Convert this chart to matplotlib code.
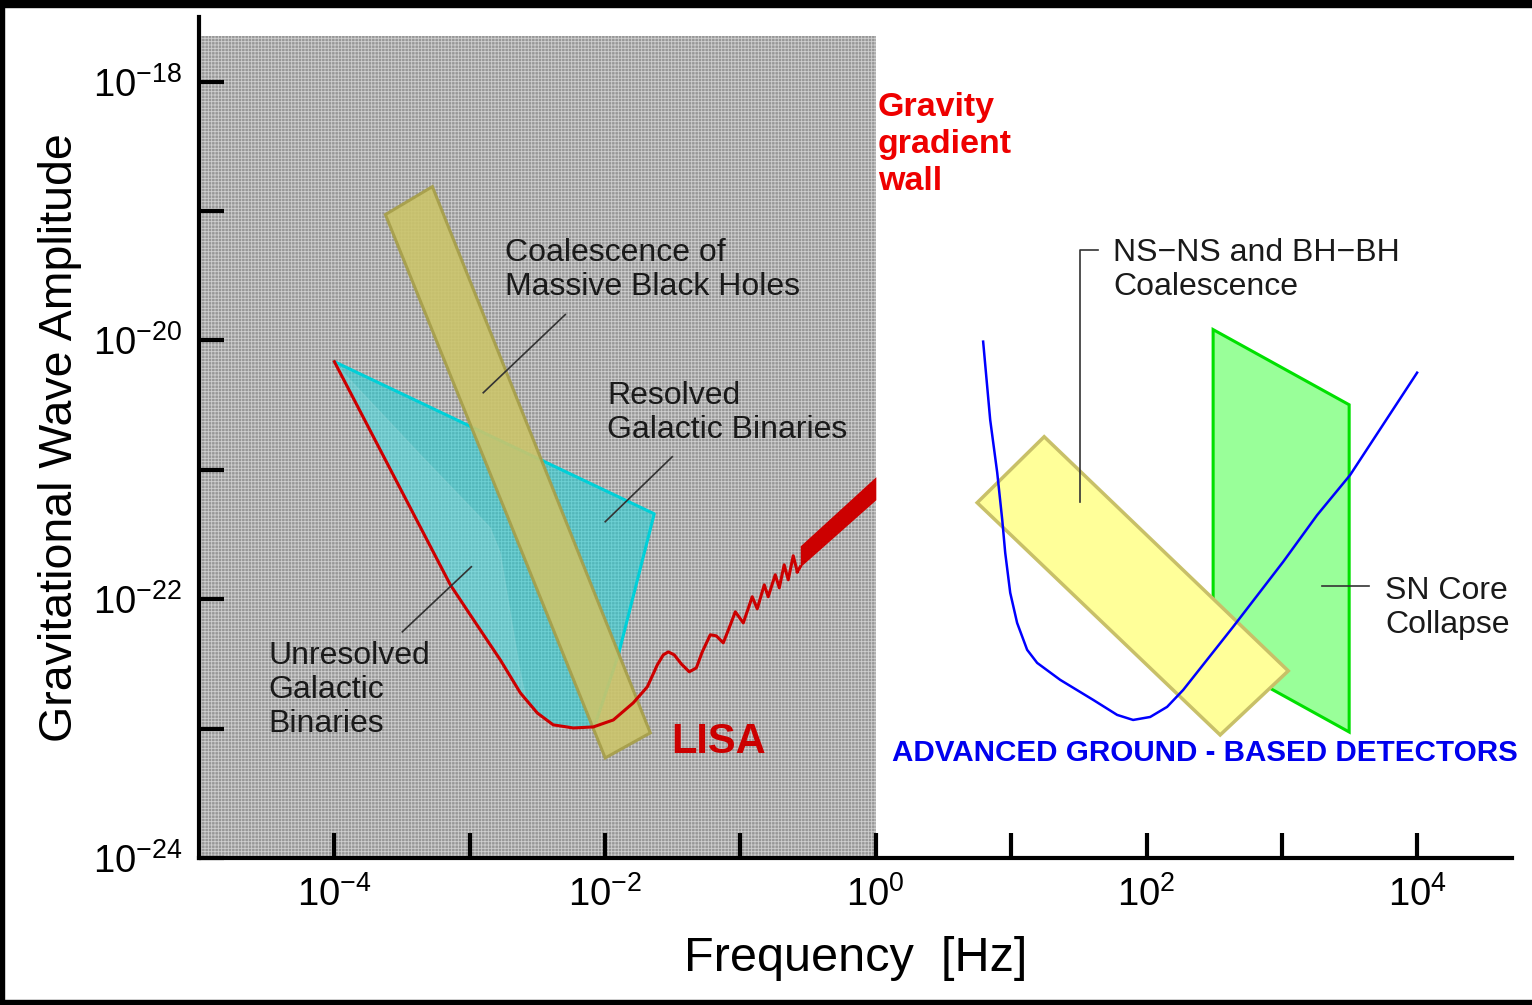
import numpy as np
import matplotlib
matplotlib.use('Agg')
import matplotlib.pyplot as plt
from matplotlib.patches import Polygon, Rectangle

plt.rcParams['font.family'] = ['Liberation Sans', 'DejaVu Sans']
plt.rcParams['mathtext.fontset'] = 'custom'
plt.rcParams['mathtext.rm'] = 'Liberation Sans'
plt.rcParams['mathtext.default'] = 'regular'
plt.rcParams['hatch.linewidth'] = 0.6
plt.rcParams['hatch.color'] = '#d2d2d2'

# --- data (log10 frequency [Hz], log10 amplitude) ---
# LISA sensitivity curve
lisa_logf = [-4.0, -3.143, -2.996, -2.774, -2.626, -2.501, -2.383, -2.235, -2.087,
             -1.939, -1.792, -1.688, -1.614, -1.570, -1.533, -1.489, -1.437, -1.378,
             -1.326, -1.282, -1.223, -1.179, -1.127, -1.083, -1.038,
             -0.979, -0.913, -0.876, -0.824, -0.795, -0.743, -0.713, -0.677, -0.647,
             -0.610, -0.580]
lisa_logh = [-20.164, -21.889, -22.121, -22.469, -22.724, -22.879, -22.971, -22.995, -22.987,
             -22.933, -22.801, -22.677, -22.507, -22.430, -22.407, -22.430, -22.500, -22.561,
             -22.531, -22.407, -22.275, -22.283, -22.337, -22.221, -22.097,
             -22.183, -21.981, -22.074, -21.889, -21.981, -21.811, -21.912, -21.734, -21.850,
             -21.664, -21.788]
# dense oscillating tail of the LISA curve (upper / lower envelope)
lisa_band_logf = [-0.558, 0.0]
lisa_band_top = [-21.587, -21.053]
lisa_band_bot = [-21.749, -21.231]

# Resolved galactic binaries
res_logf = [-4.0, -1.637, -1.902, -2.08, -2.235, -2.383, -2.501, -2.626, -2.774, -2.996, -3.143]
res_logh = [-20.164, -21.340, -22.430, -22.99, -22.995, -22.971, -22.879, -22.724, -22.469, -22.121, -21.889]

# Unresolved galactic binaries
unres_logf = [-4.0, -3.143, -2.996, -2.774, -2.626, -2.575, -2.626, -2.774, -2.848, -3.365, -3.919]
unres_logh = [-20.164, -21.889, -22.121, -22.469, -22.724, -22.801, -22.569, -21.641, -21.448, -20.883, -20.265]

# Coalescence of massive black holes
mbh_logf = [-3.623, -3.276, -1.666, -1.999]
mbh_logh = [-19.027, -18.811, -23.033, -23.227]

# Advanced ground-based detector curve
ground_logf = [0.793, 0.845, 0.897, 0.934, 0.956, 0.993, 1.044, 1.118, 1.192, 1.362, 1.606,
               1.783, 1.901, 2.027, 2.152, 2.271, 2.640, 3.010, 3.260, 3.504, 3.748, 3.999]
ground_logh = [-20.009, -20.613, -21.022, -21.386, -21.641, -21.950, -22.183, -22.391, -22.492,
               -22.623, -22.778, -22.894, -22.933, -22.910, -22.832, -22.701, -22.213, -21.710,
               -21.350, -21.040, -20.650, -20.249]

# NS-NS and BH-BH coalescence
nsns_logf = [0.749, 1.244, 3.047, 2.544]
nsns_logh = [-21.254, -20.744, -22.554, -23.049]

# SN core collapse
sn_logf = [2.492, 3.497, 3.497, 2.492]
sn_logh = [-19.916, -20.497, -23.026, -22.445]

# gravity gradient wall
wall_logf = [-5.0, 0.0]
wall_top = -17.65

xticks = [1e-4, 1e-3, 1e-2, 1e-1, 1e0, 1e1, 1e2, 1e3, 1e4]
xticklabels = [r'$10^{-4}$', '', r'$10^{-2}$', '', r'$10^{0}$', '', r'$10^{2}$', '', r'$10^{4}$']
yticks = [1e-24, 1e-23, 1e-22, 1e-21, 1e-20, 1e-19, 1e-18]
yticklabels = [r'$10^{-24}$', '', r'$10^{-22}$', '', r'$10^{-20}$', '', r'$10^{-18}$']


def pts(lf, lh):
    return np.column_stack([10 ** np.array(lf), 10 ** np.array(lh)])


fig = plt.figure(figsize=(15.32, 10.05), dpi=100)
ax = fig.add_axes([199 / 1532, 1 - 858 / 1005, (1512 - 199) / 1532, (858 - 17) / 1005])
ax.set_xscale('log')
ax.set_yscale('log')
ax.set_xlim(1e-5, 10 ** 4.70)
ax.set_ylim(1e-24, 10 ** -17.5)

# gray stippled region
ax.fill_between(10 ** np.array(wall_logf), 1e-24, 10 ** wall_top,
                facecolor='#979797', hatch='+++++', edgecolor='#cfcfcf', lw=0, zorder=0)

# galactic binaries
ax.add_patch(Polygon(pts(res_logf, res_logh), closed=True, facecolor='#1ed2d8', alpha=0.55,
                     edgecolor='none', zorder=1))
ax.plot(10 ** np.array(res_logf[:4]), 10 ** np.array(res_logh[:4]),
        color='#00d0d8', lw=2.2, zorder=1.2)
ax.add_patch(Polygon(pts(unres_logf, unres_logh), closed=True, facecolor='#ffffff', alpha=0.12,
                     edgecolor='#d8eeee', lw=1, zorder=1.1))

# massive black holes bar
ax.add_patch(Polygon(pts(mbh_logf, mbh_logh), closed=True, facecolor='#cbc46a', alpha=0.9,
                     edgecolor='#a69e48', lw=2.2, zorder=1.5))

# LISA curve
ax.plot(10 ** np.array(lisa_logf), 10 ** np.array(lisa_logh), color='#cc0000', lw=2.2,
        solid_joinstyle='round', zorder=2)
ax.plot(10 ** np.array([lisa_logf[-1], lisa_band_logf[0]]),
        10 ** np.array([lisa_logh[-1], lisa_band_bot[0]]), color='#cc0000', lw=2.2, zorder=2)
ax.fill_between(10 ** np.array(lisa_band_logf), 10 ** np.array(lisa_band_bot),
                10 ** np.array(lisa_band_top), color='#cc0000', lw=0, zorder=2)

# ground based
ax.add_patch(Polygon(pts(sn_logf, sn_logh), closed=True, facecolor='#99ff99',
                     edgecolor='#00e000', lw=2.2, zorder=1))
ax.add_patch(Polygon(pts(nsns_logf, nsns_logh), closed=True, facecolor='#ffff99',
                     edgecolor='#c8c068', lw=2.5, zorder=1.5))
ax.plot(10 ** np.array(ground_logf), 10 ** np.array(ground_logh), color='#0000ff', lw=1.8,
        solid_joinstyle='round', zorder=2)

# leader lines
lc = '#333333'
ax.plot([10 ** -2.294, 10 ** -2.900], [10 ** -19.800, 10 ** -20.404], color=lc, lw=1.2, zorder=3)
ax.plot([10 ** -1.504, 10 ** -1.999], [10 ** -20.899, 10 ** -21.401], color=lc, lw=1.2, zorder=3)
ax.plot([10 ** -3.498, 10 ** -2.988], [10 ** -22.252, 10 ** -21.749], color=lc, lw=1.2, zorder=3)
ax.plot([10 ** 1.643, 10 ** 1.510, 10 ** 1.510], [10 ** -19.298, 10 ** -19.298, 10 ** -21.247],
        color=lc, lw=1.2, zorder=3)
ax.plot([10 ** 3.297, 10 ** 3.644], [10 ** -21.896, 10 ** -21.896], color=lc, lw=1.2, zorder=3)

# labels
tc = '#1a1a1a'
fs = 23
ls = 1.17
ax.text(10 ** -2.737, 10 ** -19.452, 'Coalescence of\nMassive Black Holes', fontsize=fs,
        color=tc, va='center', ha='left', linespacing=ls, zorder=4)
ax.text(10 ** -1.984, 10 ** -20.558, 'Resolved\nGalactic Binaries', fontsize=fs,
        color=tc, va='center', ha='left', linespacing=ls, zorder=4)
ax.text(10 ** -4.487, 10 ** -22.701, 'Unresolved\nGalactic\nBinaries', fontsize=fs,
        color=tc, va='center', ha='left', linespacing=ls, zorder=4)
ax.text(10 ** 1.753, 10 ** -19.452, 'NS\u2212NS and BH\u2212BH\nCoalescence', fontsize=fs,
        color=tc, va='center', ha='left', linespacing=ls, zorder=4)
ax.text(10 ** 3.762, 10 ** -22.067, 'SN Core\nCollapse', fontsize=fs,
        color=tc, va='center', ha='left', linespacing=ls, zorder=4)
ax.text(10 ** 0.017, 10 ** -18.486, 'Gravity\ngradient\nwall', fontsize=24.5, fontweight='bold',
        color='#ee0000', va='center', ha='left', linespacing=1.24, zorder=4)
ax.text(10 ** -1.163, 10 ** -23.103, 'LISA', fontsize=30, fontweight='bold',
        color='#cc0000', va='center', ha='center', zorder=4)
ax.text(10 ** 2.433, 10 ** -23.188, 'ADVANCED GROUND - BASED DETECTORS', fontsize=21.3,
        fontweight='bold', color='#0000ee', va='center', ha='center', zorder=4)

# axes styling
for s in ['top', 'right']:
    ax.spines[s].set_visible(False)
for s in ['left', 'bottom']:
    ax.spines[s].set_linewidth(3)
ax.minorticks_off()
ax.set_xticks(xticks)
ax.set_xticklabels(xticklabels)
ax.set_yticks(yticks)
ax.set_yticklabels(yticklabels)
ax.tick_params(direction='in', length=18, width=3, labelsize=27.5, color='black')
ax.tick_params(axis='x', pad=13)
ax.tick_params(axis='y', pad=12)
ax.set_facecolor('white')
ax.set_xlabel('Frequency  [Hz]', fontsize=35)
ax.xaxis.set_label_coords(0.5, -0.093)
ax.set_ylabel('Gravitational Wave Amplitude', fontsize=33.5)
ax.yaxis.set_label_coords(-0.089, 0.5)

# black frame pieces
fig.add_artist(Rectangle((0, 1 - 7 / 1005), 1, 7 / 1005, transform=fig.transFigure,
                         color='black', zorder=10))
fig.add_artist(Rectangle((0, 0), 4 / 1532, 1, transform=fig.transFigure, color='black', zorder=10))
fig.add_artist(Rectangle((0, 0), 1, 5 / 1005, transform=fig.transFigure, color='black', zorder=10))

fig.savefig('out.png', dpi=100)
